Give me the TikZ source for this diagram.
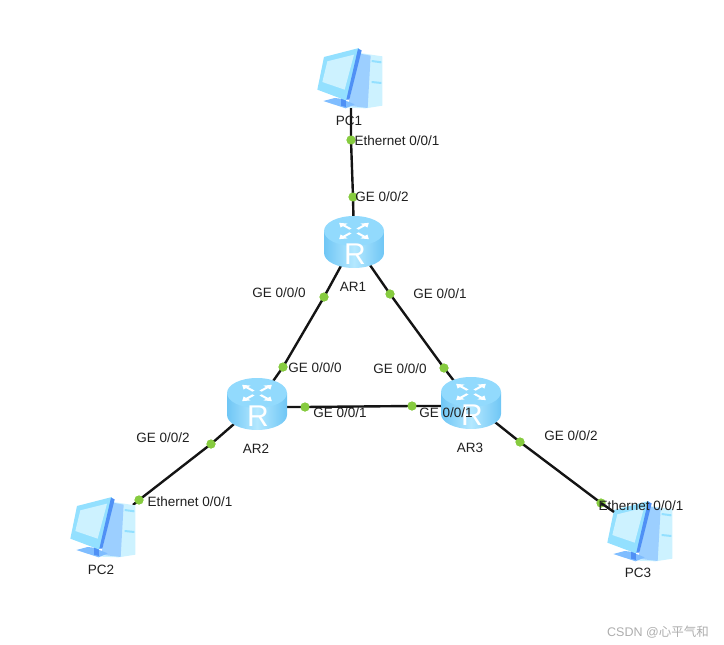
\documentclass[tikz,border=0pt]{standalone}
\usepackage{fontspec}
\setmainfont{Liberation Sans}
\newfontfamily\cjkfont{Noto Sans CJK SC}
\definecolor{dotgreen}{HTML}{86CB3F}
\definecolor{linkc}{HTML}{141414}
\definecolor{rtside}{HTML}{6FC6F5}
\definecolor{rtmid}{HTML}{B4E8FF}
\definecolor{rttop}{HTML}{92DAFD}
\definecolor{pcpale}{HTML}{CDF2FF}
\definecolor{pclight}{HTML}{93E0FF}
\definecolor{pcmid}{HTML}{9CCFFF}
\definecolor{pcbase}{HTML}{7FBDFF}
\definecolor{pcdark}{HTML}{4F90F5}
\tikzset{
  link/.style={draw=linkc,line width=2.4pt},
  port/.style={circle,fill=dotgreen,draw=none,minimum size=9pt,inner sep=0pt},
  lbl/.style={inner sep=0pt,text=black!88,font=\fontsize{13.5}{15}\selectfont},
  anchorbox/.style={inner sep=0pt,minimum width=2pt,minimum height=2pt},
  router/.pic={
    \shade[left color=rtside,right color=rtside,middle color=rtmid]
      (-30,-11) -- (-30,11) arc[start angle=180,end angle=0,x radius=30,y radius=15] -- (30,-11) -- cycle;
    \fill[rttop] (0,-11) ellipse[x radius=30,y radius=15];
    \foreach \a in {45,135,225,315}{
      \begin{scope}[shift={(0,-11)},yscale=.55,rotate=\a]
        \fill[white] (5,-1.5) -- (14,-1.5) -- (14,-5) -- (21,0) -- (14,5) -- (14,1.5) -- (5,1.5) -- cycle;
      \end{scope}
    }
    \node[text=white,inner sep=0pt,font=\fontsize{30}{30}\selectfont] at (1,12) {R};
  },
  computer/.pic={
    \begin{scope}[scale=1/3,shift={(-178,-143)}]
      % tower
      \fill[pcpale] (208,68) -- (275,78) -- (275,226) -- (225,234) -- (172,232) -- cycle;
      \fill[pcmid] (208,70) -- (240,76) -- (231,233) -- (172,226) -- cycle;
      \draw[pclight,line width=2pt] (243,92) -- (272,96) (243,155) -- (272,158);
      % stand
      \fill[pcbase] (98,212) -- (132,203) -- (150,205) -- (192,222) -- (165,234) -- cycle;
      \fill[pcdark] (151,198) -- (165,198) -- (166,230) -- (151,226) -- cycle;
      % monitor
      \fill[pclight] (100,80) -- (205,53) -- (172,205) -- (165,210) -- (80,178) -- cycle;
      \fill[pcpale] (110,93) -- (190,73) -- (162,178) -- (95,155) -- cycle;
      \fill[pcdark] (202,55) -- (213,60) -- (176,208) -- (167,208) -- cycle;
    \end{scope}
  }
}
\begin{document}
\begin{tikzpicture}[x=1pt,y=-1pt]
\useasboundingbox (0,0) rectangle (724,645);
% device anchors
\node[anchorbox] (pc1) at (351,108) {};
\node[anchorbox] (pc2) at (133,505) {};
\node[anchorbox] (pc3) at (614,512) {};
\node[anchorbox] (ar1) at (354,242) {};
\node[anchorbox] (ar2) at (257,404) {};
\node[anchorbox] (ar3) at (471,403) {};
% port dots
\node[port] (p1a) at (351,140) {};
\node[port] (p1b) at (353,197) {};
\node[port] (a1l) at (324,297) {};
\node[port] (a1r) at (390,294) {};
\node[port] (a2u) at (283,367) {};
\node[port] (a3u) at (444,368) {};
\node[port] (a2r) at (305,407) {};
\node[port] (a3l) at (412,406) {};
\node[port] (a2d) at (211,444) {};
\node[port] (a3d) at (520,442) {};
\node[port] (p2a) at (139,500) {};
\node[port] (p3a) at (601,503) {};
% links
\draw[link] (pc1.center) -- (p1a.center) -- (p1b.center) -- (ar1.center);
\draw[link] (ar1.center) -- (a1l.center) -- (a2u.center) -- (ar2.center);
\draw[link] (ar1.center) -- (a1r.center) -- (a3u.center) -- (ar3.center);
\draw[link] (ar2 |- a2r) -- (a2r.center) -- (a3l.center) -- (ar3 |- a3l);
\draw[link] (ar2.center) -- (a2d.center) -- (p2a.center) -- (pc2.center);
\draw[link] (ar3.center) -- (a3d.center) -- (p3a.center);
% icons
\pic at (350,78) {computer};
\pic at (103,527) {computer};
\pic at (640,531) {computer};
\pic at (354,242) {router};
\pic at (257,404) {router};
\pic at (471,403) {router};
% redraw dots above links
\foreach \n in {p1a,p1b,a1l,a1r,a2u,a3u,a2r,a3l,a2d,a3d,p2a,p3a}{
  \fill[dotgreen] (\n) circle[radius=4.5pt];
}
\draw[link] (p3a.center) -- (pc3.center);
% labels
\node[lbl] (t1) at (397,141) {Ethernet 0/0/1};
\node[lbl] (t2) at (382,197) {GE 0/0/2};
\node[lbl] (t3) at (279,293) {GE 0/0/0};
\node[lbl] (t4) at (440,294) {GE 0/0/1};
\node[lbl] (t5) at (315,368) {GE 0/0/0};
\node[lbl] (t6) at (400,369) {GE 0/0/0};
\node[lbl] (t7) at (340,413) {GE 0/0/1};
\node[lbl] (t8) at (446,413) {GE 0/0/1};
\node[lbl] (t9) at (163,438) {GE 0/0/2};
\node[lbl] (t10) at (571,436) {GE 0/0/2};
\node[lbl] (t11) at (190,502) {Ethernet 0/0/1};
\node[lbl] (t12) at (641,506) {Ethernet 0/0/1};
\node[lbl] (n1) at (349,121) {PC1};
\node[lbl] (n2) at (353,287) {AR1};
\node[lbl] (n3) at (256,449) {AR2};
\node[lbl] (n4) at (470,448) {AR3};
\node[lbl] (n5) at (101,570) {PC2};
\node[lbl] (n6) at (638,573) {PC3};
\node[inner sep=0pt,text=black!32,font=\fontsize{12.5}{14}\selectfont] (wm) at (658,632) {CSDN @{\cjkfont 心平气和}};
\end{tikzpicture}
\end{document}
